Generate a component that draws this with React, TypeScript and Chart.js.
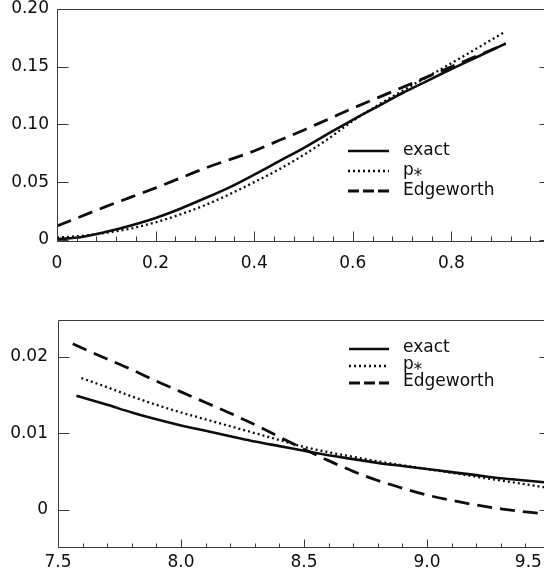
import React, { useEffect, useRef } from "react";
import { Chart, registerables } from "chart.js";

Chart.register(...registerables);

// ---------- top panel data ----------
const topX = [0, 0.05, 0.1, 0.15, 0.2, 0.25, 0.3, 0.35, 0.4, 0.45, 0.5, 0.55, 0.6, 0.65, 0.7, 0.75, 0.8, 0.85, 0.9, 0.91];
const topExact = [0.0005, 0.0025, 0.007, 0.0125, 0.019, 0.027, 0.036, 0.0455, 0.0565, 0.068, 0.0795, 0.092, 0.104, 0.1155, 0.127, 0.1375, 0.148, 0.158, 0.168, 0.17];
const topPstar = [0.002, 0.0035, 0.0062, 0.0098, 0.0152, 0.022, 0.03, 0.0395, 0.05, 0.061, 0.0735, 0.0875, 0.103, 0.1165, 0.129, 0.141, 0.153, 0.1655, 0.178, 0.1805];
const topEdge = [0.012, 0.0205, 0.029, 0.037, 0.045, 0.0535, 0.062, 0.0695, 0.077, 0.086, 0.095, 0.1045, 0.114, 0.123, 0.132, 0.141, 0.15, 0.159, 0.168, 0.17];
const topYTicks = [0, 0.05, 0.1, 0.15, 0.2];
const topYLabels = ["0", "0.05", "0.10", "0.15", "0.20"];
const topXMajor = [0, 0.2, 0.4, 0.6, 0.8];
const topXLabels = ["0", "0.2", "0.4", "0.6", "0.8"];
const topXMinor = [0.04, 0.08, 0.12, 0.16, 0.24, 0.28, 0.32, 0.36, 0.44, 0.48, 0.52, 0.56, 0.64, 0.68, 0.72, 0.76, 0.84, 0.88, 0.92, 0.96];

// ---------- bottom panel data ----------
const botExactX = [7.575, 7.7, 7.8, 7.9, 8.0, 8.1, 8.2, 8.3, 8.4, 8.5, 8.6, 8.7, 8.8, 8.9, 9.0, 9.1, 9.2, 9.3, 9.4, 9.5];
const botExact = [0.0149, 0.0137, 0.0127, 0.0118, 0.011, 0.0103, 0.0096, 0.0089, 0.0083, 0.0077, 0.0071, 0.0066, 0.0061, 0.0057, 0.0053, 0.0049, 0.0045, 0.0041, 0.0038, 0.0035];
const botPstarX = [7.595, 7.7, 7.8, 7.9, 8.0, 8.1, 8.2, 8.3, 8.4, 8.5, 8.6, 8.7, 8.8, 8.9, 9.0, 9.1, 9.2, 9.3, 9.4, 9.5];
const botPstar = [0.0172, 0.016, 0.0148, 0.0137, 0.0127, 0.0118, 0.0109, 0.01, 0.0091, 0.0082, 0.0075, 0.0069, 0.0063, 0.0058, 0.0053, 0.0048, 0.0043, 0.0038, 0.0033, 0.0028];
const botEdgeX = [7.56, 7.6, 7.7, 7.8, 7.9, 8.0, 8.1, 8.2, 8.3, 8.4, 8.5, 8.6, 8.7, 8.8, 8.9, 9.0, 9.1, 9.2, 9.3, 9.4, 9.5];
const botEdge = [0.0217, 0.0211, 0.0197, 0.0183, 0.0168, 0.0154, 0.014, 0.0126, 0.0111, 0.0095, 0.0079, 0.0064, 0.005, 0.0038, 0.0028, 0.0019, 0.0012, 0.0006, 0.0001, -0.0003, -0.0006];
const botYTicks = [0, 0.01, 0.02];
const botYLabels = ["0", "0.01", "0.02"];
const botXMajor = [7.5, 8.0, 8.5, 9.0, 9.5];
const botXLabels = ["7.5", "8.0", "8.5", "9.0", "9.5        "];
const botXMinor = [7.6, 7.7, 7.8, 7.9, 8.1, 8.2, 8.3, 8.4, 8.6, 8.7, 8.8, 8.9, 9.1, 9.2, 9.3, 9.4];

const seriesLabels = ["exact", "p\u204E", "Edgeworth"];

const INK = "#0d0d0d";
const AXIS = "#3a3a3a";
const FAMILY = '"DejaVu Sans", sans-serif';
const FONT_SIZE = 17;

const zip = (xs: number[], ys: number[]) => xs.map((x, i) => ({ x, y: ys[i] }));

const framePlugin = {
  id: "frame",
  afterDatasetsDraw(chart: any, _args: any, o: any) {
    const { ctx, chartArea: a, scales } = chart;
    const L = Math.round(a.left) + 0.5;
    const R = Math.round(a.right) + 0.5;
    const T = Math.round(a.top) + 0.5;
    const B = Math.round(a.bottom) + 0.5;
    ctx.save();
    ctx.strokeStyle = AXIS;
    ctx.lineWidth = 1;
    ctx.setLineDash([]);
    ctx.beginPath();
    ctx.moveTo(L, T);
    ctx.lineTo(R, T);
    ctx.lineTo(R, B);
    ctx.lineTo(L, B);
    ctx.closePath();
    ctx.stroke();
    ctx.beginPath();
    for (const v of o.yTicks) {
      const py = Math.round(scales.y.getPixelForValue(v)) + 0.5;
      ctx.moveTo(L, py);
      ctx.lineTo(L + o.yLen, py);
      ctx.moveTo(R, py);
      ctx.lineTo(R - o.yLen, py);
    }
    for (const v of o.xMajor) {
      const px = Math.round(scales.x.getPixelForValue(v)) + 0.5;
      ctx.moveTo(px, B);
      ctx.lineTo(px, B - o.majorLen);
    }
    for (const v of o.xMinor) {
      const px = Math.round(scales.x.getPixelForValue(v)) + 0.5;
      ctx.moveTo(px, B);
      ctx.lineTo(px, B - o.minorLen);
    }
    ctx.stroke();
    ctx.restore();
  },
};

const legendPlugin = {
  id: "insetLegend",
  afterDraw(chart: any, _args: any, o: any) {
    const { ctx } = chart;
    ctx.save();
    chart.data.datasets.forEach((ds: any, i: number) => {
      const y = o.y + i * o.rowH;
      ctx.beginPath();
      ctx.setLineDash(o.dashes[i]);
      ctx.lineWidth = ds.borderWidth;
      ctx.strokeStyle = ds.borderColor;
      ctx.moveTo(o.x, y);
      ctx.lineTo(o.x + o.lineW, y);
      ctx.stroke();
      ctx.setLineDash([]);
      ctx.fillStyle = INK;
      ctx.font = `${FONT_SIZE}px ${FAMILY}`;
      ctx.textBaseline = "middle";
      ctx.textAlign = "left";
      ctx.fillText(ds.label, o.x + o.lineW + o.gap, y + o.textDy);
    });
    ctx.restore();
  },
};

type Spec = {
  exact: { x: number; y: number }[];
  pstar: { x: number; y: number }[];
  edge: { x: number; y: number }[];
  xMin: number; xMax: number; yMin: number; yMax: number;
  yTicks: number[]; yLabels: string[];
  xMajor: number[]; xLabels: string[]; xMinor: number[];
  padTop: number; leftW: number; xAxisH: number;
  yPad: number; xPad: number;
  majorLen: number; minorLen: number; yLen: number;
  legend: any;
};

function makeConfig(p: Spec): any {
  const font = { family: FAMILY, size: FONT_SIZE };
  const common = { pointRadius: 0, fill: false, cubicInterpolationMode: "monotone", borderColor: INK, borderCapStyle: "butt" };
  return {
    type: "line",
    data: {
      datasets: [
        { ...common, label: seriesLabels[0], data: p.exact, borderWidth: 2.6, borderDash: [] },
        { ...common, label: seriesLabels[1], data: p.pstar, borderWidth: 2.3, borderDash: [2, 3] },
        { ...common, label: seriesLabels[2], data: p.edge, borderWidth: 2.8, borderDash: [15, 8] },
      ],
    },
    options: {
      animation: false,
      responsive: false,
      devicePixelRatio: 1,
      layout: { padding: { top: p.padTop, right: 2, left: 0, bottom: 0 } },
      plugins: {
        legend: { display: false },
        tooltip: { enabled: false },
        frame: { yTicks: p.yTicks, xMajor: p.xMajor, xMinor: p.xMinor, majorLen: p.majorLen, minorLen: p.minorLen, yLen: p.yLen },
        insetLegend: p.legend,
      },
      scales: {
        x: {
          type: "linear",
          min: p.xMin,
          max: p.xMax,
          grid: { display: false, drawTicks: false },
          border: { display: false },
          afterBuildTicks: (s: any) => {
            s.ticks = p.xMajor.map((v) => ({ value: v }));
          },
          afterFit: (s: any) => {
            s.height = p.xAxisH;
            s.paddingLeft = 0;
            s.paddingRight = 0;
          },
          ticks: {
            autoSkip: false,
            maxRotation: 0,
            minRotation: 0,
            padding: p.xPad,
            color: INK,
            font,
            callback: (_v: any, i: number) => p.xLabels[i],
          },
        },
        y: {
          type: "linear",
          min: p.yMin,
          max: p.yMax,
          grid: { display: false, drawTicks: false },
          border: { display: false },
          afterBuildTicks: (s: any) => {
            s.ticks = p.yTicks.map((v) => ({ value: v }));
          },
          afterFit: (s: any) => {
            s.width = p.leftW;
            s.paddingTop = 0;
            s.paddingBottom = 0;
          },
          ticks: {
            autoSkip: false,
            padding: p.yPad,
            color: INK,
            font,
            callback: (_v: any, i: number) => p.yLabels[i],
          },
        },
      },
    },
    plugins: [framePlugin, legendPlugin],
  };
}

export default function App() {
  const topRef = useRef<HTMLCanvasElement>(null);
  const botRef = useRef<HTMLCanvasElement>(null);

  useEffect(() => {
    const c1 = new Chart(
      topRef.current as HTMLCanvasElement,
      makeConfig({
        exact: zip(topX, topExact),
        pstar: zip(topX, topPstar),
        edge: zip(topX, topEdge),
        xMin: 0, xMax: 1.0, yMin: -0.001, yMax: 0.2,
        yTicks: topYTicks, yLabels: topYLabels,
        xMajor: topXMajor, xLabels: topXLabels, xMinor: topXMinor,
        padTop: 9, leftW: 57, xAxisH: 49,
        yPad: 8, xPad: 12,
        majorLen: 10, minorLen: 5, yLen: 11,
        legend: { x: 348, y: 151, rowH: 20, lineW: 41, gap: 14, textDy: 0, dashes: [[], [2, 3], [11, 4]] },
      })
    );
    const c2 = new Chart(
      botRef.current as HTMLCanvasElement,
      makeConfig({
        exact: zip(botExactX, botExact),
        pstar: zip(botPstarX, botPstar),
        edge: zip(botEdgeX, botEdge),
        xMin: 7.5, xMax: 9.5, yMin: -0.0049, yMax: 0.0248,
        yTicks: botYTicks, yLabels: botYLabels,
        xMajor: botXMajor, xLabels: botXLabels, xMinor: botXMinor,
        padTop: 30, leftW: 58, xAxisH: 35,
        yPad: 10, xPad: 5,
        majorLen: 8, minorLen: 4, yLen: 11,
        legend: { x: 349, y: 59, rowH: 17, lineW: 40, gap: 14, textDy: -1, dashes: [[], [2, 3], [11, 4]] },
      })
    );
    return () => {
      c1.destroy();
      c2.destroy();
    };
  }, []);

  return (
    <div style={{ position: "absolute", left: 0, top: 0, width: 544, height: 582, overflow: "hidden", background: "#fff" }}>
      <canvas ref={topRef} width={552} height={290} style={{ position: "absolute", left: 0, top: 0, display: "block" }} />
      <canvas ref={botRef} width={552} height={292} style={{ position: "absolute", left: 0, top: 290, display: "block" }} />
    </div>
  );
}
